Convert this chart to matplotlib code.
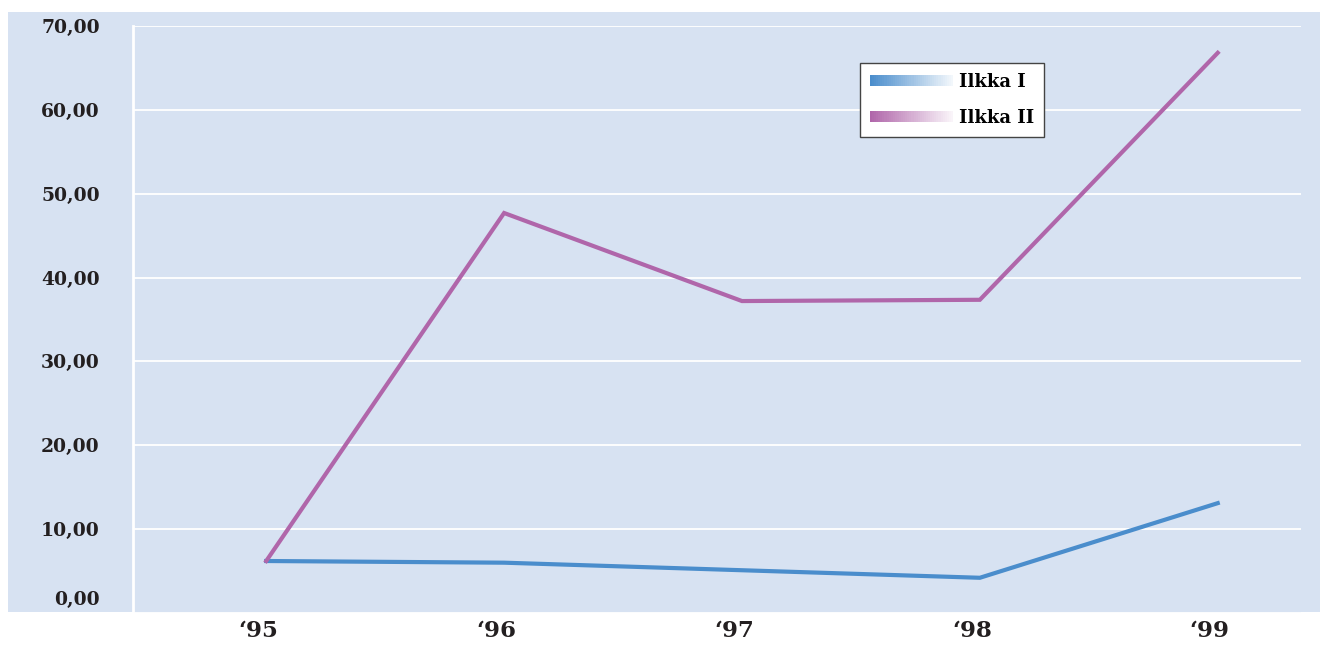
import matplotlib
matplotlib.use("Agg")
import matplotlib.pyplot as plt
import matplotlib.transforms as mtransforms
from matplotlib.patches import Rectangle
from matplotlib.legend_handler import HandlerBase
import numpy as np

# Data
years = ["\u201895", "\u201896", "\u201897", "\u201898", "\u201899"]
ilkka1 = [6.2, 6.0, 5.1, 4.2, 13.1]
ilkka2 = [6.2, 47.7, 37.2, 37.35, 66.8]
yticks = [0, 10, 20, 30, 40, 50, 60, 70]
ytick_labels = ["0,00", "10,00", "20,00", "30,00", "40,00", "50,00", "60,00", "70,00"]

bg = "#d7e2f2"
blue = "#4a8dcc"
purple = "#b066aa"
W, H = 1320, 648


class GradHandler(HandlerBase):
    # legend key drawn as a bar that fades from colour to white
    def __init__(self, color, n=40):
        super().__init__()
        self.color = np.array(matplotlib.colors.to_rgb(color))
        self.n = n

    def create_artists(self, legend, orig_handle, xdescent, ydescent,
                       width, height, fontsize, trans):
        arts = []
        bh = 7.5
        y0 = -ydescent + height / 2 - bh / 2
        step = width / self.n
        for i in range(self.n):
            f = i / (self.n - 1)
            c = self.color * (1 - f * 0.93) + np.ones(3) * f * 0.93
            r = Rectangle((-xdescent + i * step, y0), step * 1.05, bh,
                          facecolor=c, edgecolor="none", transform=trans)
            arts.append(r)
        return arts


fig = plt.figure(figsize=(W / 100, H / 100), dpi=100)
fig.patch.set_facecolor("white")
fig.patches.append(Rectangle((8 / W, 1 - 612 / H), 1 - 8 / W, (612 - 12) / H,
                             transform=fig.transFigure, facecolor=bg,
                             edgecolor="none", zorder=-10))

ax = fig.add_axes([133 / W, 1 - 613 / H, (1301 - 133) / W, (613 - 26) / H])
ax.set_facecolor(bg)

x = np.arange(len(years))
l1, = ax.plot(x, ilkka1, color=blue, lw=3, solid_joinstyle="miter", zorder=3)
l2, = ax.plot(x, ilkka2, color=purple, lw=3, solid_joinstyle="miter", zorder=3)

ax.set_xlim(-0.56, 4.35)
ax.set_ylim(0, 70)
ax.set_yticks(yticks)
ax.set_yticklabels(ytick_labels, fontfamily="DejaVu Serif", fontweight="bold",
                   fontsize=13.5, color="#231f20")
ax.set_xticks(x)
ax.set_xticklabels(years, fontfamily="DejaVu Serif", fontweight="bold",
                   fontsize=16.5, color="#231f20")
ax.tick_params(axis="y", length=0, pad=24)
ax.tick_params(axis="x", length=0, pad=5)

# the zero label sits a bit higher than its gridline
lab0 = ax.get_yticklabels()[0]
lab0.set_transform(lab0.get_transform() +
                   mtransforms.ScaledTranslation(0, 15 / 100, fig.dpi_scale_trans))
for lab in ax.get_xticklabels():
    lab.set_transform(lab.get_transform() +
                      mtransforms.ScaledTranslation(-8 / 100, 0, fig.dpi_scale_trans))

ax.grid(axis="y", color="white", lw=1.3)
ax.set_axisbelow(True)
for s in ["top", "right", "bottom"]:
    ax.spines[s].set_visible(False)
ax.spines["left"].set_color("white")
ax.spines["left"].set_linewidth(2)

leg = ax.legend([l1, l2], ["Ilkka I", "Ilkka II"],
                handler_map={l1: GradHandler(blue), l2: GradHandler(purple)},
                loc="upper left", bbox_to_anchor=(860 / W, 1 - 63 / H),
                bbox_transform=fig.transFigure,
                prop={"family": "DejaVu Serif", "weight": "bold", "size": 13},
                frameon=True, fancybox=False, framealpha=1,
                edgecolor="#444444", handlelength=4.6, handletextpad=0.35,
                labelspacing=1.0, borderpad=0.55, borderaxespad=0)
leg.get_frame().set_linewidth(1)
leg.get_frame().set_facecolor("white")

fig.savefig("out.png", dpi=100)
